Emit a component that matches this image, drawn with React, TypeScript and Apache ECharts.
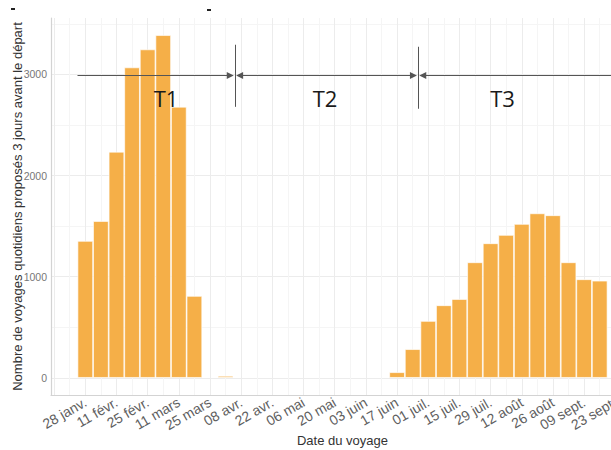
import React, { useEffect, useRef } from "react";
import * as echarts from "echarts";

// Weekly trips (index 0 = week of 28 janv., one entry per week)
const tripsPerWeek = [
  1354, 1551, 2236, 3070, 3248, 3389, 2681, 810, 0, 20,
  0, 0, 0, 0, 0, 0, 0, 0, 0, 0,
  56, 284, 563, 718, 780, 1143, 1331, 1413, 1522, 1627, 1608, 1143, 975, 961,
];

// Tick labels, one every two weeks (week indices 0, 2, 4, ...)
const tickLabels = [
  "28 janv.", "11 févr.", "25 févr.", "11 mars", "25 mars", "08 avr.",
  "22 avr.", "06 mai", "20 mai", "03 juin", "17 juin", "01 juil.",
  "15 juil.", "29 juil.", "12 août", "26 août", "09 sept.", "23 sept.",
];
const yTickLabels = [0, 1000, 2000, 3000];
const yGridValues = [0, 500, 1000, 1500, 2000, 2500, 3000, 3500];

// Period annotations (in week units / trip units)
const periodNames = ["T1", "T2", "T3"];
const periodBounds = [-0.5, 9.6, 21.35, 35.2];
const periodLineLevel = 2990;
const separatorTop = [3294, 3274];
const separatorBottom = [2680, 2661];

export default function App() {
  const ref = useRef<HTMLDivElement>(null);

  useEffect(() => {
    const chart = echarts.init(ref.current!, null, { renderer: "svg" });

    const barData = tripsPerWeek
      .map((v, i) => [i, v])
      .filter((d) => d[1] > 0);

    const maxVal = Math.max(...tripsPerWeek);
    const yMin = -0.05 * maxVal;
    const yMax = maxVal * 1.05;
    const lastWeek = tripsPerWeek.length - 1;
    const xPad = 0.05 * (lastWeek + 1);
    const xMin = -0.5 - xPad;
    const xMax = lastWeek + 0.5 + xPad;

    const xGrid: number[] = [];
    for (let w = Math.ceil(xMin); w <= Math.floor(xMax); w++) xGrid.push(w);
    const xLabelVals = tickLabels.map((_, i) => i * 2);

    const arrowOff = 0.3;
    const lineData: any[] = [
      [
        { coord: [periodBounds[0], periodLineLevel], symbol: "none" },
        { coord: [periodBounds[1] - arrowOff, periodLineLevel], symbol: "triangle" },
      ],
      [
        { coord: [periodBounds[1] + arrowOff, periodLineLevel], symbol: "triangle" },
        { coord: [periodBounds[2] - arrowOff, periodLineLevel], symbol: "triangle" },
      ],
      [
        { coord: [periodBounds[2] + arrowOff, periodLineLevel], symbol: "triangle" },
        { coord: [periodBounds[3], periodLineLevel], symbol: "none" },
      ],
      [
        { coord: [periodBounds[1], separatorTop[0]], symbol: "none" },
        { coord: [periodBounds[1], separatorBottom[0]], symbol: "none" },
      ],
      [
        { coord: [periodBounds[2], separatorTop[1]], symbol: "none" },
        { coord: [periodBounds[2], separatorBottom[1]], symbol: "none" },
      ],
    ];

    const labelPos = [166, 325, 502.5];

    chart.setOption({
      animation: false,
      backgroundColor: "#ffffff",
      textStyle: { fontFamily: "Liberation Sans, Arial, sans-serif" },
      grid: {
        left: 51,
        right: 26,
        top: 18,
        bottom: 55,
        containLabel: false,
        outerBoundsMode: "none",
      },
      xAxis: {
        type: "value",
        min: xMin,
        max: xMax,
        name: "Date du voyage",
        nameLocation: "middle",
        nameGap: 39,
        nameMoveOverlap: false,
        nameTextStyle: { fontSize: 13, color: "#333333" },
        axisLine: { show: true, onZero: false, lineStyle: { color: "#d3d3d3", width: 1.2 } },
        axisTick: { show: false, customValues: xGrid },
        axisLabel: {
          customValues: xLabelVals,
          rotate: 30,
          fontSize: 14,
          color: "#5f5f5f",
          margin: 6,
          formatter: (v: number) => tickLabels[Math.round(v / 2)] ?? "",
        },
        splitLine: {
          show: true,
          lineStyle: { color: ["#ececec", "#f5f5f5"], width: 1 },
        },
      },
      yAxis: {
        type: "value",
        min: yMin,
        max: yMax,
        name: "Nombre de voyages quotidiens proposés 3 jours avant le départ",
        nameLocation: "middle",
        nameRotate: 90,
        nameGap: 27,
        nameMoveOverlap: false,
        nameTextStyle: { fontSize: 13, color: "#333333" },
        axisLine: { show: true, onZero: false, lineStyle: { color: "#d3d3d3", width: 1.2 } },
        axisTick: { show: false, customValues: yGridValues },
        axisLabel: {
          customValues: yTickLabels,
          fontSize: 10.5,
          color: "#777777",
          margin: 4,
          formatter: (v: number) => String(v),
        },
        splitLine: {
          show: true,
          lineStyle: { color: ["#ececec", "#f5f5f5"], width: 1 },
        },
      },
      series: [
        {
          type: "bar",
          data: barData,
          barWidth: 15.6,
          itemStyle: {
            color: "#F5AF48",
            borderColor: "rgba(255,255,255,0.8)",
            borderWidth: 0.8,
          },
          markLine: {
            silent: true,
            animation: false,
            symbolSize: [7, 7],
            label: { show: false },
            lineStyle: { color: "#555555", width: 1, type: "solid" },
            itemStyle: { color: "#111111" },
            emphasis: { disabled: true },
            data: lineData,
          },
        },
      ],
      graphic: [
        ...periodNames.map((t, i) => ({
          type: "text",
          x: labelPos[i],
          y: 98,
          z: 100,
          style: {
            text: t,
            fontSize: 22,
            fontFamily: "Open Sans, sans-serif",
            fill: "#1a1a1a",
            align: "center",
            verticalAlign: "middle",
          },
        })),
        { type: "rect", z: 100, shape: { x: 11, y: 8, width: 4, height: 2 }, style: { fill: "#222" } },
        { type: "rect", z: 100, shape: { x: 207, y: 9, width: 4, height: 2 }, style: { fill: "#222" } },
      ],
    });

    return () => chart.dispose();
  }, []);

  return (
    <div
      style={{
        position: "fixed",
        left: 0,
        top: 0,
        width: 611,
        height: 450,
        overflow: "hidden",
        background: "#fff",
      }}
    >
      <div ref={ref} style={{ width: 660, height: 450 }} />
    </div>
  );
}
